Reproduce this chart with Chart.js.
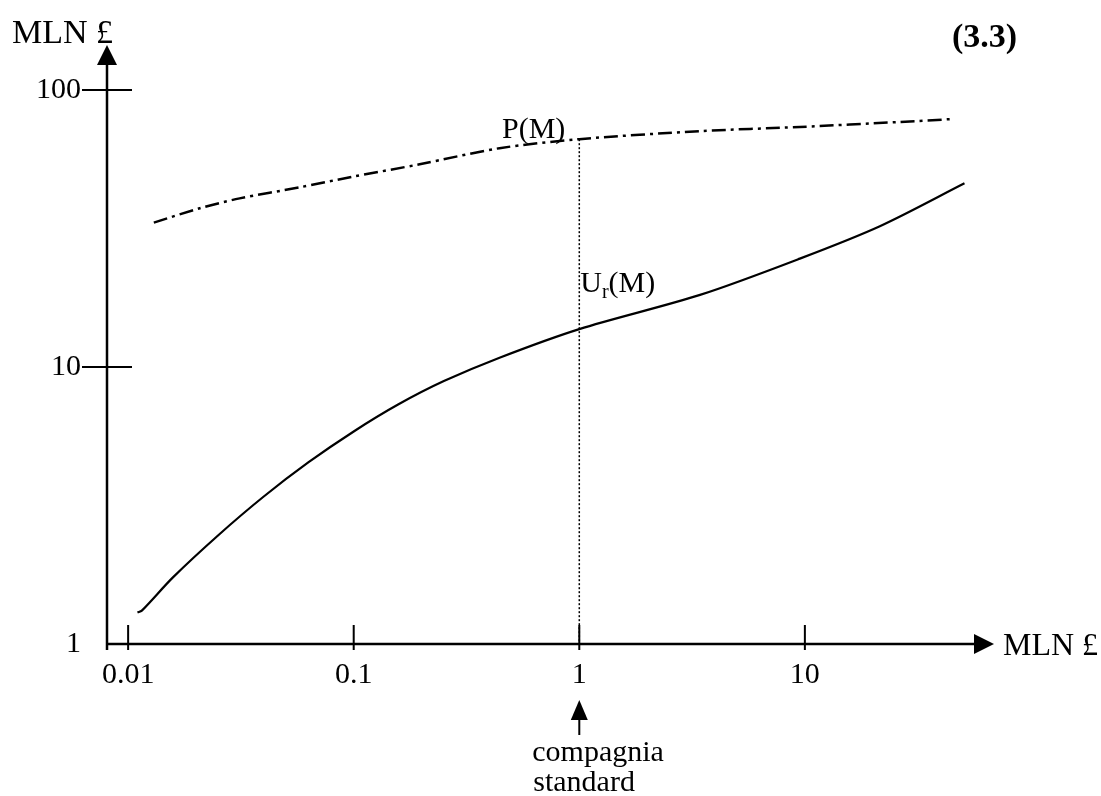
<!DOCTYPE html>
<html><head><meta charset="utf-8">
<script src="https://cdn.jsdelivr.net/npm/chart.js@4.4.0/dist/chart.umd.min.js"></script>
<style>html,body{margin:0;padding:0;background:#fff;overflow:hidden}#wrap{width:1101px;height:796px;position:relative}</style>
</head><body><div id="wrap"><canvas id="c"></canvas></div>
<script>
// ---- data ----
const xTicks = [0.01, 0.1, 1, 10];
const xTickLabels = ['0.01', '0.1', '1', '10'];
const yTicks = [1, 10, 100];
const yTickLabels = ['1', '10', '100'];
const pX = [0.013, 0.0208, 0.0312, 0.0576, 0.0963, 0.196, 0.443, 1, 3.43, 9.5, 26.4, 44.9];
const pY = [33.2, 37.4, 40.6, 44.5, 48.4, 53.9, 61.6, 66.4, 71.0, 73.5, 76.6, 78.5];
const uX = [0.0110, 0.0115, 0.0158, 0.0251, 0.0398, 0.0631, 0.1, 0.158, 0.251, 0.443, 1, 3.43, 9.5, 21.5, 51];
const uY = [1.30, 1.32, 1.74, 2.47, 3.40, 4.53, 5.85, 7.33, 8.89, 10.8, 13.7, 18.2, 24.6, 32.2, 46];
const refX = 1;
const pLabel = 'P(M)';
const uLabelMain = 'U', uLabelSub = 'r', uLabelTail = '(M)';
const yAxisTitle = 'MLN \u00A3', xAxisTitle = 'MLN \u00A3';
const figNumber = '(3.3)';
const noteLines = ['compagnia', 'standard'];

const SERIF = "'Liberation Serif', 'Times New Roman', serif";
Chart.defaults.font.family = SERIF;
Chart.defaults.color = '#000';

const toPts = (xs, ys) => xs.map((x, i) => ({x, y: ys[i]}));

function arrowHead(ctx, tipX, tipY, dir, len, half) {
  ctx.beginPath();
  if (dir === 'up') { ctx.moveTo(tipX, tipY); ctx.lineTo(tipX - half, tipY + len); ctx.lineTo(tipX + half, tipY + len); }
  if (dir === 'right') { ctx.moveTo(tipX, tipY); ctx.lineTo(tipX - len, tipY - half); ctx.lineTo(tipX - len, tipY + half); }
  ctx.closePath(); ctx.fill();
}

const decor = {
  id: 'decor',
  afterDraw(chart) {
    const {ctx, chartArea: a, scales: {x, y}} = chart;
    ctx.save();
    ctx.strokeStyle = '#000'; ctx.fillStyle = '#000'; ctx.lineWidth = 2.5; ctx.lineCap = 'butt';
    // axes
    ctx.beginPath();
    ctx.moveTo(a.left, a.bottom + 6); ctx.lineTo(a.left, a.top);
    ctx.moveTo(a.left, a.bottom); ctx.lineTo(a.right, a.bottom);
    ctx.stroke();
    arrowHead(ctx, a.left, a.top - 20, 'up', 20, 10);
    arrowHead(ctx, a.right + 20, a.bottom, 'right', 20, 10);
    // ticks
    ctx.lineWidth = 2;
    ctx.beginPath();
    yTicks.forEach(v => { if (v === 1) return; const py = y.getPixelForValue(v); ctx.moveTo(a.left - 25, py); ctx.lineTo(a.left + 25, py); });
    xTicks.forEach(v => { const px = x.getPixelForValue(v); ctx.moveTo(px, a.bottom - 19); ctx.lineTo(px, a.bottom + 6); });
    ctx.stroke();
    // titles
    ctx.textBaseline = 'alphabetic';
    ctx.font = '34px ' + SERIF; ctx.textAlign = 'left';
    ctx.fillText(yAxisTitle, 12, 43);
    ctx.font = '32px ' + SERIF;
    ctx.fillText(xAxisTitle, a.right + 29, a.bottom + 11);
    ctx.font = 'bold 34px ' + SERIF;
    ctx.fillText(figNumber, 952, 47);
    // curve labels
    const rx = x.getPixelForValue(refX);
    ctx.font = '30px ' + SERIF; ctx.textAlign = 'right';
    ctx.fillText(pLabel, rx - 14, y.getPixelForValue(66.4) - 1);
    ctx.textAlign = 'left';
    const ub = 292; let ux = rx + 1;
    ctx.fillText(uLabelMain, ux, ub); ux += ctx.measureText(uLabelMain).width;
    ctx.font = '20px ' + SERIF; ctx.fillText(uLabelSub, ux, ub + 6); ux += ctx.measureText(uLabelSub).width;
    ctx.font = '30px ' + SERIF; ctx.fillText(uLabelTail, ux, ub);
    // arrow to "compagnia standard"
    ctx.lineWidth = 2;
    ctx.beginPath(); ctx.moveTo(rx, 718); ctx.lineTo(rx, 735); ctx.stroke();
    arrowHead(ctx, rx, 700, 'up', 20, 8.5);
    ctx.font = '30px ' + SERIF; ctx.textAlign = 'left';
    ctx.fillText(noteLines[0], rx - 47, 761);
    ctx.fillText(noteLines[1], rx - 46, 791);
    ctx.restore();
  }
};

new Chart(document.getElementById('c'), {
  type: 'line',
  data: {
    datasets: [
      { label: 'P(M)', data: toPts(pX, pY), borderColor: '#000', borderWidth: 2.5, borderDash: [14, 5, 3, 5], pointRadius: 0, tension: 0.3, fill: false },
      { label: 'Ur(M)', data: toPts(uX, uY), borderColor: '#000', borderWidth: 2.2, pointRadius: 0, tension: 0.3, fill: false },
      { label: 'ref', data: [{x: refX, y: pY[pX.indexOf(refX)]}, {x: refX, y: yTicks[0]}], borderColor: '#000', borderWidth: 1.5, borderDash: [2, 2], pointRadius: 0, fill: false }
    ]
  },
  options: {
    responsive: true, maintainAspectRatio: false, animation: false, devicePixelRatio: 1,
    layout: { padding: { left: 0, right: 127, top: 65, bottom: 0 } },
    plugins: { legend: { display: false }, tooltip: { enabled: false } },
    scales: {
      x: {
        type: 'logarithmic', position: 'bottom', min: 0.00806, max: 56.2,
        grid: { display: false, drawTicks: false }, border: { display: false },
        afterBuildTicks: s => { s.ticks = xTicks.map(v => ({value: v})); },
        afterFit: s => { s.height = 152; },
        ticks: { autoSkip: false, maxRotation: 0, padding: 13, font: { size: 30, family: SERIF }, color: '#000',
          callback: v => { const i = xTicks.indexOf(v); return i >= 0 ? xTickLabels[i] : ''; } }
      },
      y: {
        type: 'logarithmic', position: 'left', min: 1, max: 123,
        grid: { display: false, drawTicks: false }, border: { display: false },
        afterBuildTicks: s => { s.ticks = yTicks.map(v => ({value: v})); },
        afterFit: s => { s.width = 107; },
        ticks: { autoSkip: false, padding: 26, font: { size: 30, family: SERIF }, color: '#000',
          callback: v => { const i = yTicks.indexOf(v); return i >= 0 ? yTickLabels[i] : ''; } }
      }
    }
  },
  plugins: [decor]
});
</script></body></html>
